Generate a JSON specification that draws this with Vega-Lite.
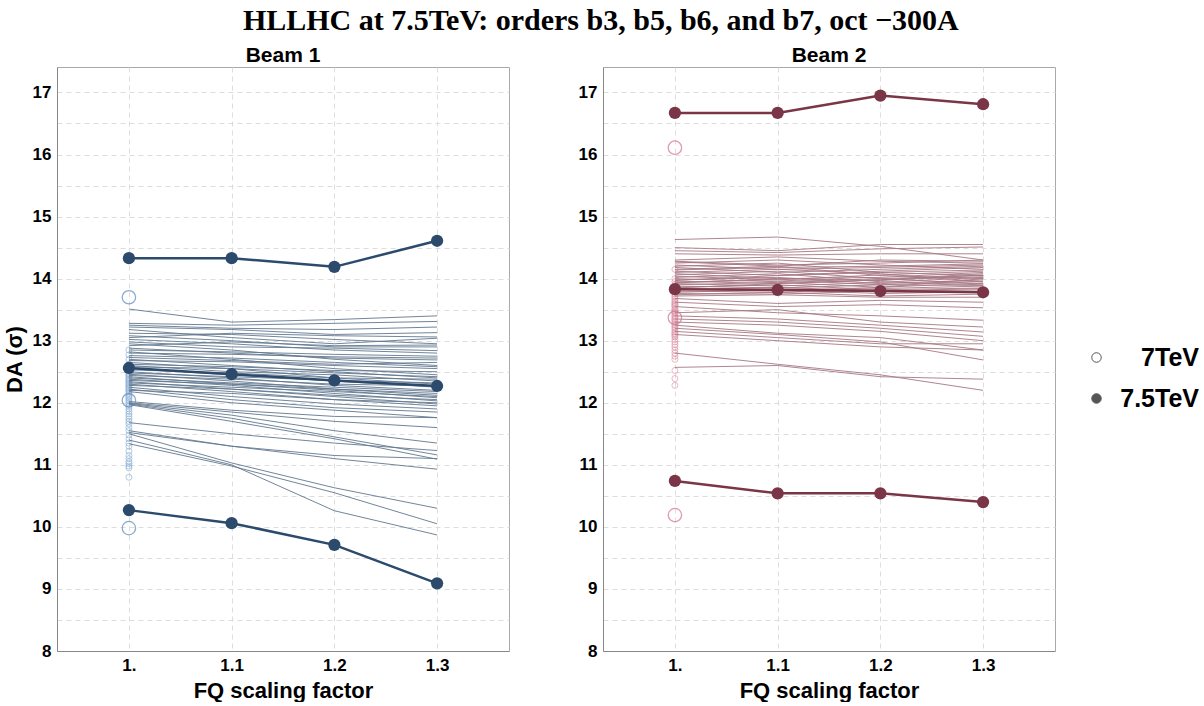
{
"$schema": "https://vega.github.io/schema/vega-lite/v6.json",
"padding": {"left": 2, "top": 5, "right": 5, "bottom": 0},
"background": "white",
"title": {"text": "HLLHC at 7.5TeV: orders b3, b5, b6, and b7, oct −300A", "font": "Liberation Serif", "fontSize": 30, "fontWeight": "bold", "color": "black", "anchor": "middle", "offset": 9},
"config": {
  "view": {"stroke": "#aaaaaa", "strokeWidth": 1},
  "axis": {"labelFont": "Liberation Sans", "labelFontWeight": "bold", "labelFontSize": 17, "labelColor": "black", "titleFont": "Liberation Sans", "titleFontWeight": "bold", "titleFontSize": 22, "titleColor": "black", "ticks": false, "domainColor": "#888888", "gridColor": "#dddddd", "gridDash": [5, 4], "gridWidth": 1},
  "title": {"font": "Liberation Sans", "fontWeight": "bold", "fontSize": 21, "color": "black", "offset": 1},
  "legend": {"title": null, "orient": "none", "legendX": 1027, "legendY": 278, "symbolSize": 90, "symbolStrokeWidth": 1, "symbolOpacity": 1, "symbolStrokeColor": "#555555", "rowPadding": 15, "labelOffset": 90, "labelAlign": "right", "labelFont": "Liberation Sans", "labelFontWeight": "bold", "labelFontSize": 25, "labelColor": "black"}
},
"datasets": {
  "seeds": [
{"b":1,"s":1,"x":1,"y":13.51},{"b":1,"s":1,"x":1.1,"y":13.30},{"b":1,"s":1,"x":1.2,"y":13.34},{"b":1,"s":1,"x":1.3,"y":13.40},
{"b":1,"s":2,"x":1,"y":13.28},{"b":1,"s":2,"x":1.1,"y":13.25},{"b":1,"s":2,"x":1.2,"y":13.28},{"b":1,"s":2,"x":1.3,"y":13.31},
{"b":1,"s":3,"x":1,"y":13.25},{"b":1,"s":3,"x":1.1,"y":13.20},{"b":1,"s":3,"x":1.2,"y":13.18},{"b":1,"s":3,"x":1.3,"y":13.22},
{"b":1,"s":4,"x":1,"y":13.22},{"b":1,"s":4,"x":1.1,"y":13.18},{"b":1,"s":4,"x":1.2,"y":13.10},{"b":1,"s":4,"x":1.3,"y":13.13},
{"b":1,"s":5,"x":1,"y":13.18},{"b":1,"s":5,"x":1.1,"y":13.05},{"b":1,"s":5,"x":1.2,"y":12.95},{"b":1,"s":5,"x":1.3,"y":13.04},
{"b":1,"s":6,"x":1,"y":13.12},{"b":1,"s":6,"x":1.1,"y":13.10},{"b":1,"s":6,"x":1.2,"y":13.02},{"b":1,"s":6,"x":1.3,"y":12.95},
{"b":1,"s":7,"x":1,"y":13.08},{"b":1,"s":7,"x":1.1,"y":13.00},{"b":1,"s":7,"x":1.2,"y":12.90},{"b":1,"s":7,"x":1.3,"y":12.90},
{"b":1,"s":8,"x":1,"y":13.05},{"b":1,"s":8,"x":1.1,"y":13.12},{"b":1,"s":8,"x":1.2,"y":13.08},{"b":1,"s":8,"x":1.3,"y":13.06},
{"b":1,"s":9,"x":1,"y":13.02},{"b":1,"s":9,"x":1.1,"y":12.95},{"b":1,"s":9,"x":1.2,"y":12.85},{"b":1,"s":9,"x":1.3,"y":12.80},
{"b":1,"s":10,"x":1,"y":12.98},{"b":1,"s":10,"x":1.1,"y":12.90},{"b":1,"s":10,"x":1.2,"y":12.88},{"b":1,"s":10,"x":1.3,"y":12.84},
{"b":1,"s":11,"x":1,"y":12.95},{"b":1,"s":11,"x":1.1,"y":12.85},{"b":1,"s":11,"x":1.2,"y":12.70},{"b":1,"s":11,"x":1.3,"y":12.60},
{"b":1,"s":12,"x":1,"y":12.92},{"b":1,"s":12,"x":1.1,"y":12.98},{"b":1,"s":12,"x":1.2,"y":12.92},{"b":1,"s":12,"x":1.3,"y":12.93},
{"b":1,"s":13,"x":1,"y":12.88},{"b":1,"s":13,"x":1.1,"y":12.80},{"b":1,"s":13,"x":1.2,"y":12.72},{"b":1,"s":13,"x":1.3,"y":12.69},
{"b":1,"s":14,"x":1,"y":12.85},{"b":1,"s":14,"x":1.1,"y":12.82},{"b":1,"s":14,"x":1.2,"y":12.78},{"b":1,"s":14,"x":1.3,"y":12.75},
{"b":1,"s":15,"x":1,"y":12.82},{"b":1,"s":15,"x":1.1,"y":12.70},{"b":1,"s":15,"x":1.2,"y":12.55},{"b":1,"s":15,"x":1.3,"y":12.45},
{"b":1,"s":16,"x":1,"y":12.80},{"b":1,"s":16,"x":1.1,"y":12.78},{"b":1,"s":16,"x":1.2,"y":12.74},{"b":1,"s":16,"x":1.3,"y":12.72},
{"b":1,"s":17,"x":1,"y":12.76},{"b":1,"s":17,"x":1.1,"y":12.72},{"b":1,"s":17,"x":1.2,"y":12.65},{"b":1,"s":17,"x":1.3,"y":12.58},
{"b":1,"s":18,"x":1,"y":12.73},{"b":1,"s":18,"x":1.1,"y":12.68},{"b":1,"s":18,"x":1.2,"y":12.62},{"b":1,"s":18,"x":1.3,"y":12.65},
{"b":1,"s":19,"x":1,"y":12.70},{"b":1,"s":19,"x":1.1,"y":12.60},{"b":1,"s":19,"x":1.2,"y":12.50},{"b":1,"s":19,"x":1.3,"y":12.40},
{"b":1,"s":20,"x":1,"y":12.68},{"b":1,"s":20,"x":1.1,"y":12.66},{"b":1,"s":20,"x":1.2,"y":12.60},{"b":1,"s":20,"x":1.3,"y":12.55},
{"b":1,"s":21,"x":1,"y":12.65},{"b":1,"s":21,"x":1.1,"y":12.55},{"b":1,"s":21,"x":1.2,"y":12.40},{"b":1,"s":21,"x":1.3,"y":12.30},
{"b":1,"s":22,"x":1,"y":12.62},{"b":1,"s":22,"x":1.1,"y":12.58},{"b":1,"s":22,"x":1.2,"y":12.52},{"b":1,"s":22,"x":1.3,"y":12.50},
{"b":1,"s":23,"x":1,"y":12.60},{"b":1,"s":23,"x":1.1,"y":12.50},{"b":1,"s":23,"x":1.2,"y":12.45},{"b":1,"s":23,"x":1.3,"y":12.35},
{"b":1,"s":24,"x":1,"y":12.58},{"b":1,"s":24,"x":1.1,"y":12.55},{"b":1,"s":24,"x":1.2,"y":12.48},{"b":1,"s":24,"x":1.3,"y":12.42},
{"b":1,"s":25,"x":1,"y":12.55},{"b":1,"s":25,"x":1.1,"y":12.45},{"b":1,"s":25,"x":1.2,"y":12.35},{"b":1,"s":25,"x":1.3,"y":12.25},
{"b":1,"s":26,"x":1,"y":12.53},{"b":1,"s":26,"x":1.1,"y":12.48},{"b":1,"s":26,"x":1.2,"y":12.40},{"b":1,"s":26,"x":1.3,"y":12.38},
{"b":1,"s":27,"x":1,"y":12.50},{"b":1,"s":27,"x":1.1,"y":12.40},{"b":1,"s":27,"x":1.2,"y":12.28},{"b":1,"s":27,"x":1.3,"y":12.20},
{"b":1,"s":28,"x":1,"y":12.48},{"b":1,"s":28,"x":1.1,"y":12.42},{"b":1,"s":28,"x":1.2,"y":12.36},{"b":1,"s":28,"x":1.3,"y":12.32},
{"b":1,"s":29,"x":1,"y":12.46},{"b":1,"s":29,"x":1.1,"y":12.35},{"b":1,"s":29,"x":1.2,"y":12.22},{"b":1,"s":29,"x":1.3,"y":12.12},
{"b":1,"s":30,"x":1,"y":12.44},{"b":1,"s":30,"x":1.1,"y":12.38},{"b":1,"s":30,"x":1.2,"y":12.30},{"b":1,"s":30,"x":1.3,"y":12.27},
{"b":1,"s":31,"x":1,"y":12.42},{"b":1,"s":31,"x":1.1,"y":12.30},{"b":1,"s":31,"x":1.2,"y":12.20},{"b":1,"s":31,"x":1.3,"y":12.08},
{"b":1,"s":32,"x":1,"y":12.40},{"b":1,"s":32,"x":1.1,"y":12.32},{"b":1,"s":32,"x":1.2,"y":12.25},{"b":1,"s":32,"x":1.3,"y":12.18},
{"b":1,"s":33,"x":1,"y":12.38},{"b":1,"s":33,"x":1.1,"y":12.28},{"b":1,"s":33,"x":1.2,"y":12.15},{"b":1,"s":33,"x":1.3,"y":12.03},
{"b":1,"s":34,"x":1,"y":12.36},{"b":1,"s":34,"x":1.1,"y":12.30},{"b":1,"s":34,"x":1.2,"y":12.22},{"b":1,"s":34,"x":1.3,"y":12.15},
{"b":1,"s":35,"x":1,"y":12.34},{"b":1,"s":35,"x":1.1,"y":12.22},{"b":1,"s":35,"x":1.2,"y":12.10},{"b":1,"s":35,"x":1.3,"y":11.98},
{"b":1,"s":36,"x":1,"y":12.32},{"b":1,"s":36,"x":1.1,"y":12.25},{"b":1,"s":36,"x":1.2,"y":12.18},{"b":1,"s":36,"x":1.3,"y":12.10},
{"b":1,"s":37,"x":1,"y":12.30},{"b":1,"s":37,"x":1.1,"y":12.18},{"b":1,"s":37,"x":1.2,"y":12.05},{"b":1,"s":37,"x":1.3,"y":11.95},
{"b":1,"s":38,"x":1,"y":12.28},{"b":1,"s":38,"x":1.1,"y":12.22},{"b":1,"s":38,"x":1.2,"y":12.12},{"b":1,"s":38,"x":1.3,"y":12.05},
{"b":1,"s":39,"x":1,"y":12.25},{"b":1,"s":39,"x":1.1,"y":12.10},{"b":1,"s":39,"x":1.2,"y":11.98},{"b":1,"s":39,"x":1.3,"y":11.90},
{"b":1,"s":40,"x":1,"y":12.22},{"b":1,"s":40,"x":1.1,"y":12.05},{"b":1,"s":40,"x":1.2,"y":11.92},{"b":1,"s":40,"x":1.3,"y":11.85},
{"b":1,"s":41,"x":1,"y":12.20},{"b":1,"s":41,"x":1.1,"y":12.15},{"b":1,"s":41,"x":1.2,"y":12.05},{"b":1,"s":41,"x":1.3,"y":12.00},
{"b":1,"s":42,"x":1,"y":12.18},{"b":1,"s":42,"x":1.1,"y":12.00},{"b":1,"s":42,"x":1.2,"y":11.88},{"b":1,"s":42,"x":1.3,"y":11.76},
{"b":1,"s":43,"x":1,"y":12.02},{"b":1,"s":43,"x":1.1,"y":11.88},{"b":1,"s":43,"x":1.2,"y":11.78},{"b":1,"s":43,"x":1.3,"y":11.76},
{"b":1,"s":44,"x":1,"y":12.00},{"b":1,"s":44,"x":1.1,"y":11.85},{"b":1,"s":44,"x":1.2,"y":11.70},{"b":1,"s":44,"x":1.3,"y":11.60},
{"b":1,"s":45,"x":1,"y":11.99},{"b":1,"s":45,"x":1.1,"y":11.80},{"b":1,"s":45,"x":1.2,"y":11.55},{"b":1,"s":45,"x":1.3,"y":11.35},
{"b":1,"s":46,"x":1,"y":11.98},{"b":1,"s":46,"x":1.1,"y":11.75},{"b":1,"s":46,"x":1.2,"y":11.45},{"b":1,"s":46,"x":1.3,"y":11.16},
{"b":1,"s":47,"x":1,"y":11.97},{"b":1,"s":47,"x":1.1,"y":11.70},{"b":1,"s":47,"x":1.2,"y":11.42},{"b":1,"s":47,"x":1.3,"y":11.09},
{"b":1,"s":48,"x":1,"y":11.68},{"b":1,"s":48,"x":1.1,"y":11.50},{"b":1,"s":48,"x":1.2,"y":11.35},{"b":1,"s":48,"x":1.3,"y":11.23},
{"b":1,"s":49,"x":1,"y":11.55},{"b":1,"s":49,"x":1.1,"y":11.30},{"b":1,"s":49,"x":1.2,"y":11.10},{"b":1,"s":49,"x":1.3,"y":10.93},
{"b":1,"s":50,"x":1,"y":11.50},{"b":1,"s":50,"x":1.1,"y":11.03},{"b":1,"s":50,"x":1.2,"y":10.63},{"b":1,"s":50,"x":1.3,"y":10.30},
{"b":1,"s":51,"x":1,"y":11.40},{"b":1,"s":51,"x":1.1,"y":11.00},{"b":1,"s":51,"x":1.2,"y":10.26},{"b":1,"s":51,"x":1.3,"y":9.87},
{"b":1,"s":52,"x":1,"y":11.34},{"b":1,"s":52,"x":1.1,"y":10.98},{"b":1,"s":52,"x":1.2,"y":10.55},{"b":1,"s":52,"x":1.3,"y":10.05},
{"b":1,"s":53,"x":1,"y":11.52},{"b":1,"s":53,"x":1.1,"y":11.30},{"b":1,"s":53,"x":1.2,"y":11.15},{"b":1,"s":53,"x":1.3,"y":11.10},
{"b":2,"s":1,"x":1,"y":14.63},{"b":2,"s":1,"x":1.1,"y":14.67},{"b":2,"s":1,"x":1.2,"y":14.52},{"b":2,"s":1,"x":1.3,"y":14.30},
{"b":2,"s":2,"x":1,"y":14.50},{"b":2,"s":2,"x":1.1,"y":14.45},{"b":2,"s":2,"x":1.2,"y":14.55},{"b":2,"s":2,"x":1.3,"y":14.55},
{"b":2,"s":3,"x":1,"y":14.45},{"b":2,"s":3,"x":1.1,"y":14.42},{"b":2,"s":3,"x":1.2,"y":14.48},{"b":2,"s":3,"x":1.3,"y":14.51},
{"b":2,"s":4,"x":1,"y":14.40},{"b":2,"s":4,"x":1.1,"y":14.38},{"b":2,"s":4,"x":1.2,"y":14.40},{"b":2,"s":4,"x":1.3,"y":14.40},
{"b":2,"s":5,"x":1,"y":14.30},{"b":2,"s":5,"x":1.1,"y":14.35},{"b":2,"s":5,"x":1.2,"y":14.28},{"b":2,"s":5,"x":1.3,"y":14.25},
{"b":2,"s":6,"x":1,"y":14.27},{"b":2,"s":6,"x":1.1,"y":14.20},{"b":2,"s":6,"x":1.2,"y":14.30},{"b":2,"s":6,"x":1.3,"y":14.28},
{"b":2,"s":7,"x":1,"y":14.25},{"b":2,"s":7,"x":1.1,"y":14.30},{"b":2,"s":7,"x":1.2,"y":14.22},{"b":2,"s":7,"x":1.3,"y":14.15},
{"b":2,"s":8,"x":1,"y":14.22},{"b":2,"s":8,"x":1.1,"y":14.15},{"b":2,"s":8,"x":1.2,"y":14.18},{"b":2,"s":8,"x":1.3,"y":14.22},
{"b":2,"s":9,"x":1,"y":14.20},{"b":2,"s":9,"x":1.1,"y":14.25},{"b":2,"s":9,"x":1.2,"y":14.10},{"b":2,"s":9,"x":1.3,"y":14.05},
{"b":2,"s":10,"x":1,"y":14.18},{"b":2,"s":10,"x":1.1,"y":14.10},{"b":2,"s":10,"x":1.2,"y":14.15},{"b":2,"s":10,"x":1.3,"y":14.20},
{"b":2,"s":11,"x":1,"y":14.15},{"b":2,"s":11,"x":1.1,"y":14.20},{"b":2,"s":11,"x":1.2,"y":14.05},{"b":2,"s":11,"x":1.3,"y":14.00},
{"b":2,"s":12,"x":1,"y":14.12},{"b":2,"s":12,"x":1.1,"y":14.05},{"b":2,"s":12,"x":1.2,"y":14.12},{"b":2,"s":12,"x":1.3,"y":14.18},
{"b":2,"s":13,"x":1,"y":14.10},{"b":2,"s":13,"x":1.1,"y":14.15},{"b":2,"s":13,"x":1.2,"y":14.08},{"b":2,"s":13,"x":1.3,"y":13.95},
{"b":2,"s":14,"x":1,"y":14.08},{"b":2,"s":14,"x":1.1,"y":14.00},{"b":2,"s":14,"x":1.2,"y":14.02},{"b":2,"s":14,"x":1.3,"y":14.10},
{"b":2,"s":15,"x":1,"y":14.06},{"b":2,"s":15,"x":1.1,"y":14.12},{"b":2,"s":15,"x":1.2,"y":14.00},{"b":2,"s":15,"x":1.3,"y":13.92},
{"b":2,"s":16,"x":1,"y":14.04},{"b":2,"s":16,"x":1.1,"y":13.98},{"b":2,"s":16,"x":1.2,"y":14.06},{"b":2,"s":16,"x":1.3,"y":14.12},
{"b":2,"s":17,"x":1,"y":14.02},{"b":2,"s":17,"x":1.1,"y":14.08},{"b":2,"s":17,"x":1.2,"y":13.95},{"b":2,"s":17,"x":1.3,"y":13.90},
{"b":2,"s":18,"x":1,"y":14.00},{"b":2,"s":18,"x":1.1,"y":13.95},{"b":2,"s":18,"x":1.2,"y":14.00},{"b":2,"s":18,"x":1.3,"y":14.05},
{"b":2,"s":19,"x":1,"y":13.98},{"b":2,"s":19,"x":1.1,"y":14.02},{"b":2,"s":19,"x":1.2,"y":13.92},{"b":2,"s":19,"x":1.3,"y":13.98},
{"b":2,"s":20,"x":1,"y":13.96},{"b":2,"s":20,"x":1.1,"y":13.92},{"b":2,"s":20,"x":1.2,"y":13.98},{"b":2,"s":20,"x":1.3,"y":14.08},
{"b":2,"s":21,"x":1,"y":13.94},{"b":2,"s":21,"x":1.1,"y":13.98},{"b":2,"s":21,"x":1.2,"y":13.90},{"b":2,"s":21,"x":1.3,"y":13.89},
{"b":2,"s":22,"x":1,"y":13.92},{"b":2,"s":22,"x":1.1,"y":13.88},{"b":2,"s":22,"x":1.2,"y":13.94},{"b":2,"s":22,"x":1.3,"y":14.02},
{"b":2,"s":23,"x":1,"y":13.90},{"b":2,"s":23,"x":1.1,"y":13.94},{"b":2,"s":23,"x":1.2,"y":13.86},{"b":2,"s":23,"x":1.3,"y":13.93},
{"b":2,"s":24,"x":1,"y":13.88},{"b":2,"s":24,"x":1.1,"y":13.85},{"b":2,"s":24,"x":1.2,"y":13.90},{"b":2,"s":24,"x":1.3,"y":13.96},
{"b":2,"s":25,"x":1,"y":13.86},{"b":2,"s":25,"x":1.1,"y":13.90},{"b":2,"s":25,"x":1.2,"y":13.82},{"b":2,"s":25,"x":1.3,"y":13.85},
{"b":2,"s":26,"x":1,"y":13.84},{"b":2,"s":26,"x":1.1,"y":13.80},{"b":2,"s":26,"x":1.2,"y":13.86},{"b":2,"s":26,"x":1.3,"y":14.00},
{"b":2,"s":27,"x":1,"y":13.82},{"b":2,"s":27,"x":1.1,"y":13.86},{"b":2,"s":27,"x":1.2,"y":13.80},{"b":2,"s":27,"x":1.3,"y":13.82},
{"b":2,"s":28,"x":1,"y":13.80},{"b":2,"s":28,"x":1.1,"y":13.78},{"b":2,"s":28,"x":1.2,"y":13.84},{"b":2,"s":28,"x":1.3,"y":13.88},
{"b":2,"s":29,"x":1,"y":13.78},{"b":2,"s":29,"x":1.1,"y":13.82},{"b":2,"s":29,"x":1.2,"y":13.76},{"b":2,"s":29,"x":1.3,"y":13.79},
{"b":2,"s":30,"x":1,"y":13.76},{"b":2,"s":30,"x":1.1,"y":13.75},{"b":2,"s":30,"x":1.2,"y":13.80},{"b":2,"s":30,"x":1.3,"y":13.84},
{"b":2,"s":31,"x":1,"y":13.74},{"b":2,"s":31,"x":1.1,"y":13.78},{"b":2,"s":31,"x":1.2,"y":13.72},{"b":2,"s":31,"x":1.3,"y":13.75},
{"b":2,"s":32,"x":1,"y":13.72},{"b":2,"s":32,"x":1.1,"y":13.74},{"b":2,"s":32,"x":1.2,"y":13.70},{"b":2,"s":32,"x":1.3,"y":13.70},
{"b":2,"s":33,"x":1,"y":13.68},{"b":2,"s":33,"x":1.1,"y":13.60},{"b":2,"s":33,"x":1.2,"y":13.65},{"b":2,"s":33,"x":1.3,"y":13.62},
{"b":2,"s":34,"x":1,"y":13.62},{"b":2,"s":34,"x":1.1,"y":13.55},{"b":2,"s":34,"x":1.2,"y":13.58},{"b":2,"s":34,"x":1.3,"y":13.53},
{"b":2,"s":35,"x":1,"y":13.55},{"b":2,"s":35,"x":1.1,"y":13.45},{"b":2,"s":35,"x":1.2,"y":13.40},{"b":2,"s":35,"x":1.3,"y":13.33},
{"b":2,"s":36,"x":1,"y":13.45},{"b":2,"s":36,"x":1.1,"y":13.50},{"b":2,"s":36,"x":1.2,"y":13.30},{"b":2,"s":36,"x":1.3,"y":13.22},
{"b":2,"s":37,"x":1,"y":13.40},{"b":2,"s":37,"x":1.1,"y":13.35},{"b":2,"s":37,"x":1.2,"y":13.25},{"b":2,"s":37,"x":1.3,"y":13.14},
{"b":2,"s":38,"x":1,"y":13.35},{"b":2,"s":38,"x":1.1,"y":13.30},{"b":2,"s":38,"x":1.2,"y":13.20},{"b":2,"s":38,"x":1.3,"y":13.07},
{"b":2,"s":39,"x":1,"y":13.30},{"b":2,"s":39,"x":1.1,"y":13.25},{"b":2,"s":39,"x":1.2,"y":13.15},{"b":2,"s":39,"x":1.3,"y":13.00},
{"b":2,"s":40,"x":1,"y":13.25},{"b":2,"s":40,"x":1.1,"y":13.12},{"b":2,"s":40,"x":1.2,"y":13.05},{"b":2,"s":40,"x":1.3,"y":12.85},
{"b":2,"s":41,"x":1,"y":13.20},{"b":2,"s":41,"x":1.1,"y":13.10},{"b":2,"s":41,"x":1.2,"y":12.98},{"b":2,"s":41,"x":1.3,"y":12.69},
{"b":2,"s":42,"x":1,"y":13.15},{"b":2,"s":42,"x":1.1,"y":13.05},{"b":2,"s":42,"x":1.2,"y":12.95},{"b":2,"s":42,"x":1.3,"y":12.95},
{"b":2,"s":43,"x":1,"y":13.10},{"b":2,"s":43,"x":1.1,"y":13.00},{"b":2,"s":43,"x":1.2,"y":12.90},{"b":2,"s":43,"x":1.3,"y":12.85},
{"b":2,"s":44,"x":1,"y":12.80},{"b":2,"s":44,"x":1.1,"y":12.62},{"b":2,"s":44,"x":1.2,"y":12.45},{"b":2,"s":44,"x":1.3,"y":12.20},
{"b":2,"s":45,"x":1,"y":12.57},{"b":2,"s":45,"x":1.1,"y":12.60},{"b":2,"s":45,"x":1.2,"y":12.42},{"b":2,"s":45,"x":1.3,"y":12.38},
{"b":2,"s":46,"x":1,"y":14.28},{"b":2,"s":46,"x":1.1,"y":14.22},{"b":2,"s":46,"x":1.2,"y":14.25},{"b":2,"s":46,"x":1.3,"y":14.30},
{"b":2,"s":47,"x":1,"y":14.14},{"b":2,"s":47,"x":1.1,"y":14.18},{"b":2,"s":47,"x":1.2,"y":14.20},{"b":2,"s":47,"x":1.3,"y":14.24},
{"b":2,"s":48,"x":1,"y":13.97},{"b":2,"s":48,"x":1.1,"y":14.05},{"b":2,"s":48,"x":1.2,"y":14.10},{"b":2,"s":48,"x":1.3,"y":14.14},
{"b":2,"s":49,"x":1,"y":13.93},{"b":2,"s":49,"x":1.1,"y":14.00},{"b":2,"s":49,"x":1.2,"y":13.97},{"b":2,"s":49,"x":1.3,"y":14.06},
{"b":2,"s":50,"x":1,"y":13.85},{"b":2,"s":50,"x":1.1,"y":13.92},{"b":2,"s":50,"x":1.2,"y":13.98},{"b":2,"s":50,"x":1.3,"y":14.03}
  ],
  "pts": [
{"b":1,"t":"max","e":"7.5TeV","x":1,"y":14.33},{"b":1,"t":"max","e":"7.5TeV","x":1.1,"y":14.33},{"b":1,"t":"max","e":"7.5TeV","x":1.2,"y":14.19},{"b":1,"t":"max","e":"7.5TeV","x":1.3,"y":14.61},
{"b":1,"t":"mean","e":"7.5TeV","x":1,"y":12.56},{"b":1,"t":"mean","e":"7.5TeV","x":1.1,"y":12.46},{"b":1,"t":"mean","e":"7.5TeV","x":1.2,"y":12.36},{"b":1,"t":"mean","e":"7.5TeV","x":1.3,"y":12.27},
{"b":1,"t":"min","e":"7.5TeV","x":1,"y":10.27},{"b":1,"t":"min","e":"7.5TeV","x":1.1,"y":10.06},{"b":1,"t":"min","e":"7.5TeV","x":1.2,"y":9.71},{"b":1,"t":"min","e":"7.5TeV","x":1.3,"y":9.09},
{"b":2,"t":"max","e":"7.5TeV","x":1,"y":16.67},{"b":2,"t":"max","e":"7.5TeV","x":1.1,"y":16.67},{"b":2,"t":"max","e":"7.5TeV","x":1.2,"y":16.95},{"b":2,"t":"max","e":"7.5TeV","x":1.3,"y":16.81},
{"b":2,"t":"mean","e":"7.5TeV","x":1,"y":13.83},{"b":2,"t":"mean","e":"7.5TeV","x":1.1,"y":13.82},{"b":2,"t":"mean","e":"7.5TeV","x":1.2,"y":13.80},{"b":2,"t":"mean","e":"7.5TeV","x":1.3,"y":13.78},
{"b":2,"t":"min","e":"7.5TeV","x":1,"y":10.74},{"b":2,"t":"min","e":"7.5TeV","x":1.1,"y":10.54},{"b":2,"t":"min","e":"7.5TeV","x":1.2,"y":10.54},{"b":2,"t":"min","e":"7.5TeV","x":1.3,"y":10.40},
{"b":1,"t":"max","e":"7TeV","x":1,"y":13.70},{"b":1,"t":"mean","e":"7TeV","x":1,"y":12.04},{"b":1,"t":"min","e":"7TeV","x":1,"y":9.98},
{"b":2,"t":"max","e":"7TeV","x":1,"y":16.11},{"b":2,"t":"mean","e":"7TeV","x":1,"y":13.37},{"b":2,"t":"min","e":"7TeV","x":1,"y":10.19}
  ],
  "tev7small": [
{"b":1,"x":1,"y":12.85},{"b":1,"x":1,"y":12.77},{"b":1,"x":1,"y":12.70},{"b":1,"x":1,"y":12.62},{"b":1,"x":1,"y":12.58},{"b":1,"x":1,"y":12.55},{"b":1,"x":1,"y":12.52},{"b":1,"x":1,"y":12.50},{"b":1,"x":1,"y":12.47},{"b":1,"x":1,"y":12.45},
{"b":1,"x":1,"y":12.43},{"b":1,"x":1,"y":12.40},{"b":1,"x":1,"y":12.38},{"b":1,"x":1,"y":12.36},{"b":1,"x":1,"y":12.34},{"b":1,"x":1,"y":12.32},{"b":1,"x":1,"y":12.30},{"b":1,"x":1,"y":12.28},{"b":1,"x":1,"y":12.26},{"b":1,"x":1,"y":12.24},
{"b":1,"x":1,"y":12.22},{"b":1,"x":1,"y":12.20},{"b":1,"x":1,"y":12.18},{"b":1,"x":1,"y":12.15},{"b":1,"x":1,"y":12.12},{"b":1,"x":1,"y":12.10},{"b":1,"x":1,"y":12.08},{"b":1,"x":1,"y":12.05},{"b":1,"x":1,"y":12.03},{"b":1,"x":1,"y":12.00},
{"b":1,"x":1,"y":11.97},{"b":1,"x":1,"y":11.94},{"b":1,"x":1,"y":11.90},{"b":1,"x":1,"y":11.86},{"b":1,"x":1,"y":11.82},{"b":1,"x":1,"y":11.78},{"b":1,"x":1,"y":11.74},{"b":1,"x":1,"y":11.70},{"b":1,"x":1,"y":11.66},{"b":1,"x":1,"y":11.60},
{"b":1,"x":1,"y":11.55},{"b":1,"x":1,"y":11.48},{"b":1,"x":1,"y":11.42},{"b":1,"x":1,"y":11.35},{"b":1,"x":1,"y":11.30},{"b":1,"x":1,"y":11.22},{"b":1,"x":1,"y":11.15},{"b":1,"x":1,"y":11.05},{"b":1,"x":1,"y":11.02},{"b":1,"x":1,"y":10.98},
{"b":1,"x":1,"y":10.95},{"b":1,"x":1,"y":10.80},{"b":1,"x":1,"y":11.10},
{"b":2,"x":1,"y":14.15},{"b":2,"x":1,"y":14.00},{"b":2,"x":1,"y":13.95},{"b":2,"x":1,"y":13.90},{"b":2,"x":1,"y":13.85},{"b":2,"x":1,"y":13.81},{"b":2,"x":1,"y":13.78},{"b":2,"x":1,"y":13.75},{"b":2,"x":1,"y":13.72},{"b":2,"x":1,"y":13.70},
{"b":2,"x":1,"y":13.67},{"b":2,"x":1,"y":13.64},{"b":2,"x":1,"y":13.62},{"b":2,"x":1,"y":13.60},{"b":2,"x":1,"y":13.57},{"b":2,"x":1,"y":13.55},{"b":2,"x":1,"y":13.52},{"b":2,"x":1,"y":13.50},{"b":2,"x":1,"y":13.48},{"b":2,"x":1,"y":13.45},
{"b":2,"x":1,"y":13.43},{"b":2,"x":1,"y":13.40},{"b":2,"x":1,"y":13.38},{"b":2,"x":1,"y":13.36},{"b":2,"x":1,"y":13.34},{"b":2,"x":1,"y":13.32},{"b":2,"x":1,"y":13.30},{"b":2,"x":1,"y":13.27},{"b":2,"x":1,"y":13.25},{"b":2,"x":1,"y":13.22},
{"b":2,"x":1,"y":13.20},{"b":2,"x":1,"y":13.17},{"b":2,"x":1,"y":13.14},{"b":2,"x":1,"y":13.10},{"b":2,"x":1,"y":13.06},{"b":2,"x":1,"y":13.02},{"b":2,"x":1,"y":12.98},{"b":2,"x":1,"y":12.94},{"b":2,"x":1,"y":12.90},{"b":2,"x":1,"y":12.85},
{"b":2,"x":1,"y":12.80},{"b":2,"x":1,"y":12.75},{"b":2,"x":1,"y":12.70},{"b":2,"x":1,"y":12.52},{"b":2,"x":1,"y":12.39},{"b":2,"x":1,"y":12.28},{"b":2,"x":1,"y":13.12},{"b":2,"x":1,"y":13.08},{"b":2,"x":1,"y":13.58},{"b":2,"x":1,"y":13.46}
  ]
},
"spacing": 67,
"hconcat": [
 {
  "width": 452, "height": 584,
  "title": {"text": "Beam 1"},
  "encoding": {
    "x": {"field": "x", "type": "quantitative", "scale": {"domain": [0.93, 1.37], "nice": false, "zero": false}, "axis": {"title": "FQ scaling factor", "values": [1, 1.1, 1.2, 1.3], "labelExpr": "datum.value == 1 ? '1.' : format(datum.value, '.1f')", "labelPadding": 6, "titlePadding": 7}},
    "y": {"field": "y", "type": "quantitative", "scale": {"domain": [8, 17.41], "nice": false, "zero": false}, "axis": {"title": "DA (σ)", "values": [8, 8.5, 9, 9.5, 10, 10.5, 11, 11.5, 12, 12.5, 13, 13.5, 14, 14.5, 15, 15.5, 16, 16.5, 17], "labelExpr": "datum.value % 1 == 0 ? format(datum.value, 'd') : ''", "labelPadding": 6, "titlePadding": 6}}
  },
  "layer": [
    {"data": {"name": "tev7small"}, "transform": [{"filter": "datum.b == 1"}], "mark": {"type": "point", "filled": false, "size": 36, "color": "#93b4d8", "strokeWidth": 1}},
    {"data": {"name": "seeds"}, "transform": [{"filter": "datum.b == 1"}], "mark": {"type": "line", "color": "#62788f", "strokeWidth": 1, "opacity": 0.9}, "encoding": {"detail": {"field": "s"}}},
    {"data": {"name": "pts"}, "transform": [{"filter": "datum.b == 1 && datum.e == '7TeV'"}], "mark": {"type": "point", "filled": false, "size": 180, "color": "#5a88bd", "strokeWidth": 1.3}},
    {"data": {"name": "pts"}, "transform": [{"filter": "datum.b == 1 && datum.e == '7.5TeV'"}], "mark": {"type": "line", "color": "#2b4a6c", "strokeWidth": 2.5}, "encoding": {"detail": {"field": "t"}}},
    {"data": {"name": "pts"}, "transform": [{"filter": "datum.b == 1 && datum.e == '7.5TeV'"}], "mark": {"type": "point", "filled": true, "size": 150, "color": "#2b4a6c", "opacity": 1}},
    {"data": {"name": "pts"}, "transform": [{"filter": "datum.b == 1"}], "mark": {"type": "point", "filled": true, "shape": "circle", "size": 90, "stroke": "#555555", "strokeWidth": 1, "opacity": 0}, "encoding": {"fill": {"field": "e", "type": "nominal", "scale": {"domain": ["7TeV", "7.5TeV"], "range": ["#ffffff", "#555555"]}}}}
  ]
 },
 {
  "width": 452, "height": 584,
  "title": {"text": "Beam 2"},
  "encoding": {
    "x": {"field": "x", "type": "quantitative", "scale": {"domain": [0.93, 1.37], "nice": false, "zero": false}, "axis": {"title": "FQ scaling factor", "values": [1, 1.1, 1.2, 1.3], "labelExpr": "datum.value == 1 ? '1.' : format(datum.value, '.1f')", "labelPadding": 6, "titlePadding": 7}},
    "y": {"field": "y", "type": "quantitative", "scale": {"domain": [8, 17.41], "nice": false, "zero": false}, "axis": {"title": null, "values": [8, 8.5, 9, 9.5, 10, 10.5, 11, 11.5, 12, 12.5, 13, 13.5, 14, 14.5, 15, 15.5, 16, 16.5, 17], "labelExpr": "datum.value % 1 == 0 ? format(datum.value, 'd') : ''", "labelPadding": 6}}
  },
  "layer": [
    {"data": {"name": "tev7small"}, "transform": [{"filter": "datum.b == 2"}], "mark": {"type": "point", "filled": false, "size": 36, "color": "#e29aac", "strokeWidth": 1}},
    {"data": {"name": "seeds"}, "transform": [{"filter": "datum.b == 2"}], "mark": {"type": "line", "color": "#a67884", "strokeWidth": 1, "opacity": 0.9}, "encoding": {"detail": {"field": "s"}}},
    {"data": {"name": "pts"}, "transform": [{"filter": "datum.b == 2 && datum.e == '7TeV'"}], "mark": {"type": "point", "filled": false, "size": 180, "color": "#d3718b", "strokeWidth": 1.3}},
    {"data": {"name": "pts"}, "transform": [{"filter": "datum.b == 2 && datum.e == '7.5TeV'"}], "mark": {"type": "line", "color": "#7a3546", "strokeWidth": 2.5}, "encoding": {"detail": {"field": "t"}}},
    {"data": {"name": "pts"}, "transform": [{"filter": "datum.b == 2 && datum.e == '7.5TeV'"}], "mark": {"type": "point", "filled": true, "size": 150, "color": "#7a3546", "opacity": 1}}
  ]
 }
]
}
